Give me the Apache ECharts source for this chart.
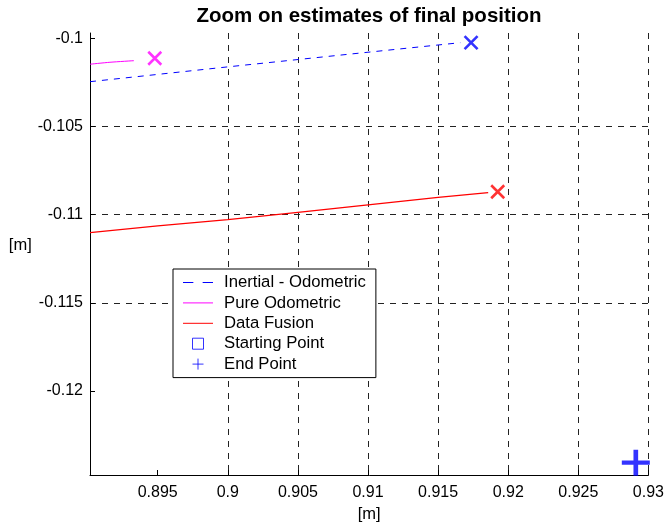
<!DOCTYPE html>
<html>
<head>
<meta charset="utf-8">
<script src="https://cdn.jsdelivr.net/npm/echarts@6/dist/echarts.min.js"></script>
<style>
  html, body { margin: 0; padding: 0; background: #fff; }
  #chart { width: 667px; height: 528px; }
</style>
</head>
<body>
<div id="chart"></div>
<script>
// values
var inertialOdo = [[0.89017, -0.10246], [0.9, -0.10162], [0.91, -0.10079], [0.91658, -0.10025]];
var pureOdo = [[0.89017, -0.10147], [0.89159, -0.10136], [0.8933, -0.10127]];
var dataFusion = [[0.89017, -0.11102], [0.895, -0.11064], [0.9, -0.11028], [0.905, -0.10987],
                  [0.91, -0.10945], [0.915, -0.10902], [0.91857, -0.10875]];
var inertialEnd = [[0.91735, -0.10025]];
var pureEnd = [[0.89479, -0.10113]];
var fusionEnd = [[0.91925, -0.1087]];
var startPoint = [];
var endPoint = [[0.9291, -0.12406]];

var xTicks = [0.895, 0.9, 0.905, 0.91, 0.915, 0.92, 0.925, 0.93];
var yTicks = [-0.12, -0.115, -0.11, -0.105, -0.1];
var xRange = [0.89017, 0.93];
var yRange = [-0.12476, -0.0997];

var FONT = 'Liberation Sans, Arial, sans-serif';
var crossPath = 'path://M0 0L10 10M10 0L0 10';
var plusPath = 'path://M5 0L5 10M0 5L10 5';
var squarePath = 'path://M0 0L10 0L10 10L0 10Z';
// legend swatches: thin bars so the line entries show no marker dot
var solidIcon = 'path://M0 0H30V1H0Z';
var dashIcon = 'path://M0 0H10V1H0Z M19 0H29V1H19Z';

function endMark(name, data, color) {
  return {
    name: name, type: 'scatter', data: data, symbol: crossPath, symbolSize: 13, z: 5,
    itemStyle: { color: 'rgba(0,0,0,0)', borderColor: color, borderWidth: 2.6 }
  };
}

var chart = echarts.init(document.getElementById('chart'));
chart.setOption({
  animation: false,
  backgroundColor: '#fff',
  textStyle: { fontFamily: FONT },
  title: {
    text: 'Zoom on estimates of final position',
    left: 364, textAlign: 'center', top: 1,
    textStyle: { fontFamily: FONT, fontSize: 20.5, fontWeight: 'bold', color: '#000' }
  },
  grid: { left: 90, right: 16, top: 33, bottom: 53 },
  legend: {
    orient: 'vertical', left: 173, top: 269,
    padding: [5, 10, 5, 10],
    itemWidth: 30, itemHeight: 11, itemGap: 3.4,
    backgroundColor: '#fff', borderColor: '#000', borderWidth: 1,
    textStyle: { fontFamily: FONT, fontSize: 16.7, color: '#000', lineHeight: 17, padding: [0, 0, 0, 6] },
    data: [
      { name: 'Inertial - Odometric', icon: dashIcon, itemStyle: { color: '#0000ff', borderWidth: 0 } },
      { name: 'Pure Odometric', icon: solidIcon, itemStyle: { color: '#ff00ff', borderWidth: 0 } },
      { name: 'Data Fusion', icon: solidIcon, itemStyle: { color: '#ff0000', borderWidth: 0 } },
      { name: 'Starting Point', icon: squarePath, itemStyle: { color: 'rgba(0,0,0,0)', borderColor: '#0000ff', borderWidth: 1 } },
      { name: 'End Point', icon: plusPath, itemStyle: { color: 'rgba(0,0,0,0)', borderColor: '#0000ff', borderWidth: 1 } }
    ]
  },
  xAxis: {
    type: 'value', min: xRange[0], max: xRange[1], splitNumber: 8,
    name: '[m]', nameLocation: 'middle', nameGap: 30,
    nameTextStyle: { fontFamily: FONT, fontSize: 16.5, color: '#000' },
    axisLine: { onZero: false, lineStyle: { color: '#000', width: 1 } },
    axisTick: { inside: true, length: 5, customValues: xTicks, lineStyle: { color: '#000' } },
    axisLabel: { customValues: xTicks, margin: 10, fontFamily: FONT, fontSize: 16, color: '#000' },
    splitLine: { show: true, showMinLine: false, lineStyle: { color: '#222', type: [6, 6], width: 1 } }
  },
  yAxis: {
    type: 'value', min: yRange[0], max: yRange[1], splitNumber: 5,
    name: '[m]', nameLocation: 'middle', nameGap: 63, nameRotate: 0,
    nameTextStyle: { fontFamily: FONT, fontSize: 16.5, color: '#000', align: 'center', verticalAlign: 'bottom' },
    axisLine: { onZero: false, lineStyle: { color: '#000', width: 1 } },
    axisTick: { inside: true, length: 5, customValues: yTicks, lineStyle: { color: '#000' } },
    axisLabel: { customValues: yTicks, margin: 7, fontFamily: FONT, fontSize: 16, color: '#000' },
    splitLine: { show: true, showMinLine: false, showMaxLine: false, lineStyle: { color: '#222', type: [6, 6], width: 1 } }
  },
  series: [
    { name: 'Inertial - Odometric', type: 'line', data: inertialOdo, symbol: 'none',
      lineStyle: { color: '#0000ff', width: 1, type: [6, 6] }, itemStyle: { color: '#0000ff' } },
    { name: 'Pure Odometric', type: 'line', data: pureOdo, symbol: 'none', smooth: 0.3,
      lineStyle: { color: '#ff00ff', width: 1 }, itemStyle: { color: '#ff00ff' } },
    { name: 'Data Fusion', type: 'line', data: dataFusion, symbol: 'none',
      lineStyle: { color: '#ff0000', width: 1.3 }, itemStyle: { color: '#ff0000' } },
    { name: 'Starting Point', type: 'scatter', data: startPoint, symbol: squarePath, symbolSize: 10,
      itemStyle: { color: 'rgba(0,0,0,0)', borderColor: '#0000ff', borderWidth: 1 } },
    { name: 'End Point', type: 'scatter', data: endPoint, symbol: plusPath, symbolSize: [28, 26], z: 5,
      itemStyle: { color: 'rgba(0,0,0,0)', borderColor: '#0000ff', borderWidth: 4.5 } },
    endMark('Inertial end', inertialEnd, '#0000ff'),
    endMark('Pure end', pureEnd, '#ff00ff'),
    endMark('Fusion end', fusionEnd, '#ff0000')
  ]
});
</script>
</body>
</html>
